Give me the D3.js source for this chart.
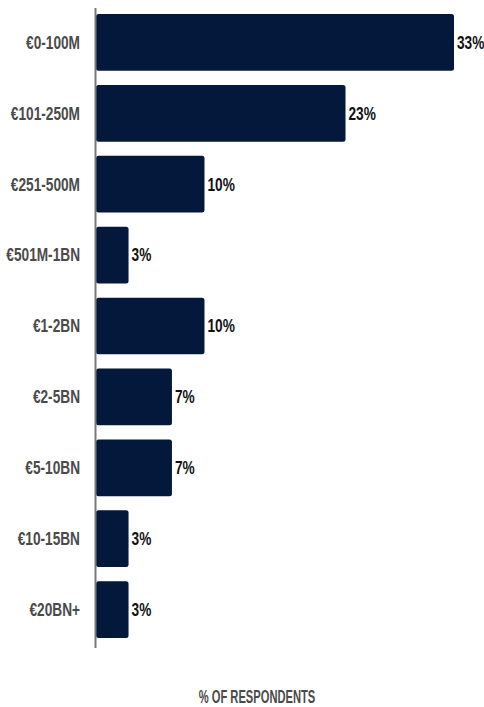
<!DOCTYPE html>
<html>
<head>
<meta charset="utf-8">
<script src="https://cdn.jsdelivr.net/npm/d3@7"></script>
<style>
  html, body { margin: 0; padding: 0; background: #ffffff; }
  svg { display: block; }
  .lbl { font-family: "Liberation Sans", Arial, sans-serif; font-weight: 700; }
</style>
</head>
<body>
<svg id="chart" width="484" height="707"></svg>
<script>
// Revenue bands and share of respondents (%)
const categories = ["€0-100M", "€101-250M", "€251-500M", "€501M-1BN", "€1-2BN", "€2-5BN", "€5-10BN", "€10-15BN", "€20BN+"];
const values = [33, 23, 10, 3, 10, 7, 7, 3, 3];
const axisTitle = "% OF RESPONDENTS";

const svg = d3.select("#chart");
const fontSize = 18;
const condense = 0.76;           // horizontal squeeze for a narrow display look
const titleCondense = 0.62;

const x = d3.scaleLinear().domain([0, 33]).range([96, 454]);
const y = d3.scaleBand().domain(categories).range([7, 645]).paddingInner(0.2).paddingOuter(0.1);

// bars
svg.append("g").selectAll("rect")
  .data(categories)
  .join("rect")
  .attr("x", x(0))
  .attr("y", d => y(d))
  .attr("width", (d, i) => x(values[i]) - x(0))
  .attr("height", y.bandwidth())
  .attr("rx", 2.5)
  .attr("fill", "#03183a");

// left axis line
svg.append("line")
  .attr("x1", x(0) - 0.5).attr("x2", x(0) - 0.5)
  .attr("y1", y.range()[0] + 1).attr("y2", y.range()[1] + 3)
  .attr("stroke", "#7a7a7a").attr("stroke-width", 2);

// category labels, right-aligned against the axis
const catG = svg.append("g");
categories.forEach(c => {
  const cx = 80, cy = y(c) + y.bandwidth() / 2;
  catG.append("text")
    .attr("class", "lbl")
    .attr("transform", `translate(${cx},${cy}) scale(${condense},1)`)
    .attr("text-anchor", "end")
    .attr("dy", "0.35em")
    .attr("font-size", fontSize)
    .attr("fill", "#4a4a4a")
    .text(c);
});

// value labels at bar ends
const valG = svg.append("g");
categories.forEach((c, i) => {
  const vx = x(values[i]) + 3, vy = y(c) + y.bandwidth() / 2;
  valG.append("text")
    .attr("class", "lbl")
    .attr("transform", `translate(${vx},${vy}) scale(${condense},1)`)
    .attr("dy", "0.35em")
    .attr("font-size", fontSize)
    .attr("fill", "#111111")
    .text(values[i] + "%");
});

// axis title
svg.append("text")
  .attr("class", "lbl")
  .attr("transform", `translate(257,703) scale(${titleCondense},1)`)
  .attr("text-anchor", "middle")
  .attr("font-size", fontSize)
  .attr("fill", "#4a4a4a")
  .text(axisTitle);
</script>
</body>
</html>
